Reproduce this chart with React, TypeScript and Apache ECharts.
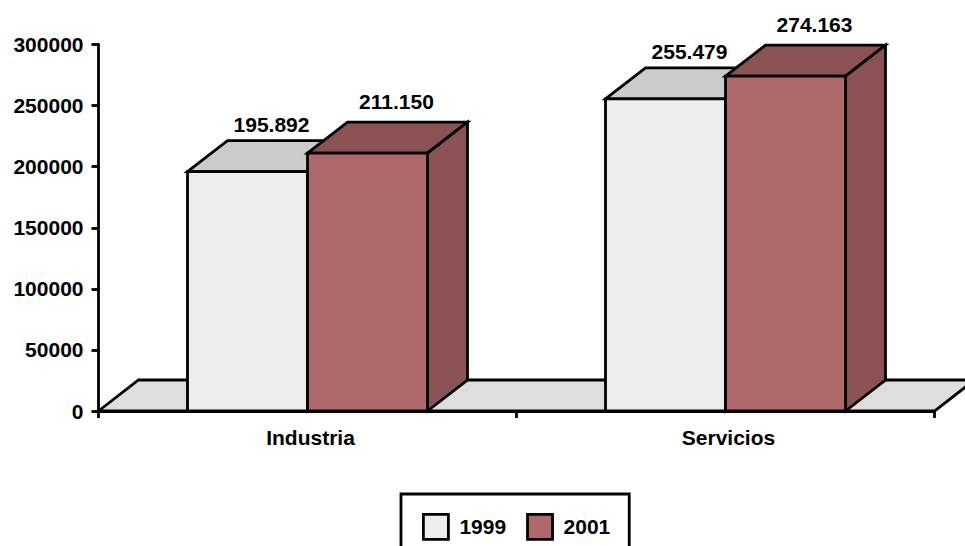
import React, { useEffect, useRef } from "react";
import * as echarts from "echarts";

const categories = ["Industria", "Servicios"];
const years = ["1999", "2001"];
const values1999 = [195892, 255479];
const values2001 = [211150, 274163];
const yTicks = { max: 300000, step: 50000 };

const FONT = '"Liberation Sans", Arial, sans-serif';
const FS = 21;
const DEPTH_X = 40;
const DEPTH_Y = 31;
const BAR_W = 120;
const LINE = 2.8;
const fmt = (v: number) => {
  const s = String(v);
  return s.slice(0, -3) + "." + s.slice(-3);
};

function barSeries(name: string, values: number[], front: string, top: string, side: string, dir: number, lx: number, ly: number) {
  return {
    type: "custom",
    name,
    z: dir < 0 ? 3 : 4,
    clip: false,
    itemStyle: { color: front },
    encode: { x: 0, y: 1 },
    data: values.map((v, i) => [i, v]),
    renderItem: (_p: any, api: any) => {
      const [cx, y1] = api.coord([api.value(0), api.value(1)]);
      const [, y0] = api.coord([api.value(0), 0]);
      const x0 = dir < 0 ? cx - BAR_W : cx;
      const x1 = x0 + BAR_W;
      const stroke = { stroke: "#000", lineWidth: LINE, lineJoin: "miter" };
      return {
        type: "group",
        children: [
          { type: "polygon", shape: { points: [[x0, y1], [x1, y1], [x1 + DEPTH_X, y1 - DEPTH_Y], [x0 + DEPTH_X, y1 - DEPTH_Y]] }, style: { fill: top, ...stroke } },
          { type: "polygon", shape: { points: [[x1, y1], [x1, y0], [x1 + DEPTH_X, y0 - DEPTH_Y], [x1 + DEPTH_X, y1 - DEPTH_Y]] }, style: { fill: side, ...stroke } },
          { type: "rect", shape: { x: x0, y: y1, width: BAR_W, height: y0 - y1 }, style: { fill: front, ...stroke } },
          { type: "text", style: { x: x0 + BAR_W / 2 + lx, y: y1 + ly, text: fmt(api.value(1)), fill: "#000", font: `bold ${FS}px ${FONT}`, align: "center", verticalAlign: "middle" }, z2: 10 },
        ],
      };
    },
  };
}

export default function App() {
  const ref = useRef<HTMLDivElement>(null);
  useEffect(() => {
    document.body.style.margin = "0";
    const chart = echarts.init(ref.current!, undefined, { renderer: "svg" });
    chart.setOption({
      animation: false,
      backgroundColor: "#fff",
      grid: { left: 98.5, right: 30.5, top: 44.5, bottom: 135 },
      legend: {
        data: years.map((name) => ({ name, icon: "rect" })),
        left: 401,
        top: 494,
        orient: "horizontal",
        padding: [19, 19, 20, 21],
        itemWidth: 25,
        itemHeight: 25,
        itemGap: 20,
        borderColor: "#000",
        borderWidth: LINE,
        selectedMode: false,
        textStyle: { color: "#000", fontFamily: FONT, fontWeight: "bold", fontSize: FS, padding: [0, 0, 0, 6] },
        itemStyle: { borderColor: "#000", borderWidth: LINE },
      },
      xAxis: {
        type: "category",
        data: categories,
        boundaryGap: true,
        axisLine: { lineStyle: { color: "#000", width: LINE } },
        axisTick: { show: true, length: 7, lineStyle: { color: "#000", width: LINE } },
        axisLabel: { color: "#000", fontFamily: FONT, fontWeight: "bold", fontSize: FS, margin: 16, padding: [0, 0, 0, 6] },
        splitLine: { show: false },
      },
      yAxis: {
        type: "value",
        min: 0,
        max: yTicks.max,
        interval: yTicks.step,
        axisLine: { show: true, lineStyle: { color: "#000", width: LINE } },
        axisTick: { show: true, length: 7, lineStyle: { color: "#000", width: LINE } },
        axisLabel: { color: "#000", fontFamily: FONT, fontWeight: "bold", fontSize: FS, margin: 15, formatter: (v: number) => String(v) },
        splitLine: { show: false },
      },
      series: [
        {
          type: "custom",
          name: "floor",
          z: 1,
          clip: false,
          encode: { x: 0, y: 1 },
          data: [[0, 0]],
          renderItem: (params: any) => {
            const { x, y, width, height } = params.coordSys;
            const b = y + height;
            return {
              type: "polygon",
              shape: { points: [[x, b], [x + DEPTH_X, b - DEPTH_Y], [x + width + DEPTH_X, b - DEPTH_Y], [x + width, b]] },
              style: { fill: "#DEDEDE", stroke: "#000", lineWidth: LINE },
            };
          },
        },
        barSeries(years[0], values1999, "#EDEDED", "#CBCBCB", "#BDBDBD", -1, 24, -47.5),
        barSeries(years[1], values2001, "#B0696B", "#8A5252", "#8A5252", 1, 29, -52),
      ],
    });
    return () => chart.dispose();
  }, []);
  return <div ref={ref} style={{ width: 965, height: 546, overflow: "hidden" }} />;
}
